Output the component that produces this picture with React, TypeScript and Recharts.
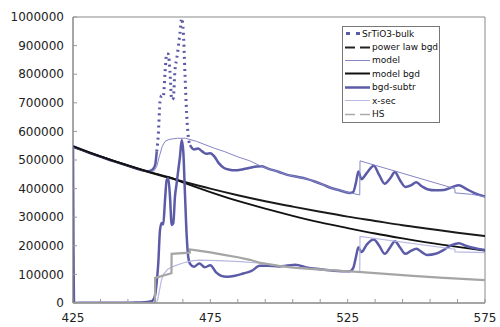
import { Line, LineChart, ReferenceArea, XAxis, YAxis } from "recharts";

// tick values
const xTicks = [425, 435, 445, 455, 465, 475, 485, 495, 505, 515, 525, 535, 545, 555, 565, 575];
const xLabels = [425, 475, 525, 575];
const yTicks = [0, 100000, 200000, 300000, 400000, 500000, 600000, 700000, 800000, 900000, 1000000];

// [energy loss (eV), counts]
const bulk = [
  [425, 548000], [430, 529000], [435, 512000], [440, 495000], [445, 480000], [450, 465000],
  [452, 461000], [453, 462000], [454, 467000], [454.9, 482000], [455.5, 530000], [456.05, 588000],
  [456.67, 703000], [457.29, 725000], [457.87, 721000], [458.5, 805000], [459.11, 872000],
  [459.69, 870000], [460.31, 808000], [460.93, 711000], [461.51, 716000], [462.13, 815000],
  [462.75, 853000], [463.4, 900000], [463.95, 944000], [464.57, 995000], [465.15, 950000],
  [465.77, 800000], [466.39, 660000], [466.97, 582000], [467.6, 552000], [469, 537000],
  [470.5, 540000], [472, 530000], [473.5, 522000], [475, 524000], [476.5, 512000], [478, 490000],
  [480, 472000], [482, 466000], [484, 464000], [486, 466000], [488, 470000], [490, 474000],
  [492, 477000], [493.5, 478000], [496, 470000], [500, 458000], [503, 448000], [506, 442000],
  [510, 434000], [513, 425000], [516, 414000], [519, 402000], [522, 394000], [525.8, 385000],
  [527, 388000], [528, 420000], [528.9, 460000], [530, 433000], [532, 455000], [534.5, 480000],
  [536.5, 447000], [538.5, 417000], [540.5, 436000], [542.2, 458000], [544, 430000],
  [546, 406000], [548, 411000], [550, 422000], [552, 408000], [554, 398000], [557, 394000],
  [560, 395000], [563, 405000], [565.5, 412000], [568, 400000], [571, 385000], [575, 372000],
];

const powerLawBgd = [
  [425, 546000], [435, 512000], [445, 480000], [455, 451000], [465, 425000], [475, 400000],
  [485, 377000], [495, 356000], [505, 337000], [515, 319000], [525, 302000], [535, 287000],
  [545, 272000], [555, 259000], [565, 246000], [575, 234000],
];

const model = [
  [425, 546000], [435, 512000], [445, 480000], [450, 465000], [453, 458000], [454.5, 462000],
  [455.5, 478000], [456.5, 515000], [457.5, 548000], [458.5, 565000], [460, 572000],
  [463, 576000], [466, 576000], [470, 565000], [476.5, 541000], [480, 530000], [485, 511000],
  [489.4, 497000], [493.3, 479000], [496, 470000], [500, 458000], [503, 448000], [506, 442000],
  [510, 434000], [513, 425000], [516, 414000], [519, 402000], [522, 394000], [525.8, 385000],
  [529.4, 378000], [529.5, 497000], [564, 400000], [564.1, 385000], [570, 380000], [575, 372000],
];

const modelBgd = [
  [425, 548000], [435, 513000], [445, 481000], [455, 452000], [460, 440000], [465, 422000],
  [475, 388000], [485, 357000], [495, 330000], [505, 305000], [515, 282000], [525, 262000],
  [535, 243000], [545, 226000], [555, 210000], [565, 196000], [575, 183000],
];

const bgdSubtr = [
  [425, 545000], [425.4, 0], [430, 1000], [440, 1000], [448, 1500], [451, 2500], [453, 5000],
  [454, 9000], [454.9, 28000], [455.5, 75000], [456.05, 139000], [456.67, 255000],
  [457.29, 280000], [457.87, 275000], [458.5, 360000], [459.11, 430000], [459.69, 436000],
  [460.31, 372000], [460.93, 273000], [461.51, 279000], [462.13, 372000], [462.75, 419000],
  [463.4, 470000], [463.95, 512000], [464.57, 570000], [465.15, 530000], [465.77, 380000],
  [466.39, 235000], [466.97, 160000], [467.6, 137000], [469, 127000], [471, 138000],
  [473, 125000], [475, 132000], [477, 108000], [479, 95000], [481, 92000], [484, 95000],
  [487, 103000], [490, 112000], [493, 130000], [496, 130000], [500, 128000], [503, 131000],
  [506, 134000], [510, 124000], [515, 118000], [520, 113000], [525.8, 111000], [527, 122000],
  [528, 160000], [528.9, 195000], [530, 178000], [532, 205000], [534.5, 222000], [536.5, 200000],
  [538.5, 172000], [540.5, 195000], [542.2, 216000], [544, 195000], [546, 172000], [548, 182000],
  [550, 190000], [552, 178000], [554, 168000], [557, 172000], [560, 186000], [563, 203000],
  [565.5, 209000], [568, 200000], [571, 192000], [575, 185000],
];

const xSec = [
  [425, 0], [455.3, 0], [455.8, 10000], [456.5, 45000], [457.2, 80000], [457.9, 100000],
  [459.5, 118000], [461.5, 128000], [465, 140000], [468, 147000], [471, 150000], [478, 148000],
  [486, 145000], [493.3, 139000], [500, 130000], [510, 121000], [520, 114000], [529.4, 109000],
  [529.5, 233000], [564, 188000], [564.1, 179000], [575, 176000],
];

const hs = [
  [425, 0], [454.85, 0], [454.9, 88000], [460.85, 104000], [460.9, 172000], [467.5, 176000],
  [467.6, 187000], [470, 184000], [475, 177000], [480, 168000], [485, 160000], [489.4, 151000],
  [493.3, 140000], [500, 130000], [505, 124000], [510, 120000], [515, 117000], [520, 114000],
  [525, 111000], [530, 108000], [540, 101000], [550, 94000], [560, 88000], [575, 80000],
];

const BLUE = "#5b5ba8";

const toRows = (pts: number[][]) => pts.map(([e, v]) => ({ e, v }));

// the raw spectrum shows its dash pattern only on the steep edge
const steepFrom = 455.5;
const steepTo = 467.6;
const bulkSolid = bulk.map(([e, v]) => ({ e, v: e > steepFrom && e < steepTo ? null : v }));
const bulkDotted = toRows(bulk.filter(([e]) => e >= steepFrom && e <= steepTo));

const Sample = ({ w, kind }: { w: number; kind: string }) => {
  const y = 6.5;
  if (kind === "bulk")
    return (
      <svg width={w} height={13}>
        <line x1={3} x2={7} y1={y} y2={y} stroke={BLUE} strokeWidth={3} />
        <line x1={13} x2={17} y1={y} y2={y} stroke={BLUE} strokeWidth={3} />
      </svg>
    );
  if (kind === "power" || kind === "hs") {
    const c = kind === "power" ? "#222" : "#aaa";
    return (
      <svg width={w} height={13}>
        <line x1={2} x2={12} y1={y} y2={y} stroke={c} strokeWidth={kind === "power" ? 2 : 1.5} />
        <line x1={17} x2={27} y1={y} y2={y} stroke={c} strokeWidth={kind === "power" ? 2 : 1.5} />
      </svg>
    );
  }
  const style: Record<string, [string, number]> = {
    model: ["#8585c6", 1],
    modelBgd: ["#111", 2],
    subtr: [BLUE, 2.5],
    xsec: ["#b8b8e2", 1],
  };
  const [c, sw] = style[kind];
  return (
    <svg width={w} height={13}>
      <line x1={2} x2={27} y1={y} y2={y} stroke={c} strokeWidth={sw} />
    </svg>
  );
};

const legendItems = [
  { label: "SrTiO3-bulk", kind: "bulk", w: 19 },
  { label: "power law bgd", kind: "power", w: 29 },
  { label: "model", kind: "model", w: 29 },
  { label: "model bgd", kind: "modelBgd", w: 29 },
  { label: "bgd-subtr", kind: "subtr", w: 29 },
  { label: "x-sec", kind: "xsec", w: 29 },
  { label: "HS", kind: "hs", w: 29 },
];

const App = () => {
  return (
    <div
      style={{
        position: "absolute",
        left: 0,
        top: 0,
        width: 500,
        height: 327,
        background: "#fff",
        fontFamily: "DejaVu Sans",
      }}
    >
      <LineChart width={500} height={327} margin={{ top: 17, right: 15, bottom: 0, left: 0 }}>
        <XAxis
          type="number"
          dataKey="e"
          domain={[425, 575]}
          ticks={xTicks}
          interval={0}
          tickFormatter={(v: number) => (xLabels.includes(v) ? String(v) : "")}
          height={24}
          tickSize={-4}
          tickMargin={14}
          axisLine={{ stroke: "#888" }}
          tickLine={{ stroke: "#999" }}
          tick={{ fill: "#222", fontSize: 12 }}
          allowDataOverflow
        />
        <YAxis
          type="number"
          domain={[0, 1000000]}
          ticks={yTicks}
          interval={0}
          width={73}
          tickSize={-4}
          tickMargin={13}
          axisLine={{ stroke: "#888" }}
          tickLine={{ stroke: "#999" }}
          tick={{ fill: "#222", fontSize: 12 }}
          allowDataOverflow
        />
        <ReferenceArea x1={425} x2={575} y1={0} y2={1000000} fill="none" stroke="#888" />
        <Line data={bulkSolid} dataKey="v" type="monotone" stroke={BLUE} strokeWidth={2.5} dot={false} connectNulls={false} isAnimationActive={false} />
        <Line data={bulkDotted} dataKey="v" type="monotone" stroke={BLUE} strokeWidth={3} strokeDasharray="2 4" dot={false} isAnimationActive={false} />
        <Line data={toRows(powerLawBgd)} dataKey="v" type="monotone" stroke="#1a1a1a" strokeWidth={2} dot={false} isAnimationActive={false} />
        <Line data={toRows(model)} dataKey="v" type="linear" stroke="#8585c6" strokeWidth={1} dot={false} isAnimationActive={false} />
        <Line data={toRows(modelBgd)} dataKey="v" type="monotone" stroke="#111" strokeWidth={1.8} dot={false} isAnimationActive={false} />
        <Line data={toRows(bgdSubtr)} dataKey="v" type="monotone" stroke={BLUE} strokeWidth={2.5} dot={false} isAnimationActive={false} />
        <Line data={toRows(xSec)} dataKey="v" type="linear" stroke="#b8b8e2" strokeWidth={1.2} dot={false} isAnimationActive={false} />
        <Line data={toRows(hs)} dataKey="v" type="linear" stroke="#a5a5a5" strokeWidth={2.2} dot={false} isAnimationActive={false} />
      </LineChart>

      <div
        style={{
          position: "absolute",
          left: 342,
          top: 26,
          width: 96,
          paddingBottom: 1,
          border: "1px solid #777",
          background: "#fff",
          fontSize: 9,
          color: "#111",
        }}
      >
        {legendItems.map((it) => (
          <div key={it.label} style={{ display: "flex", alignItems: "center", height: 13.4, whiteSpace: "nowrap" }}>
            <Sample w={it.w} kind={it.kind} />
            <span>{it.label}</span>
          </div>
        ))}
      </div>
    </div>
  );
};

export default App;
